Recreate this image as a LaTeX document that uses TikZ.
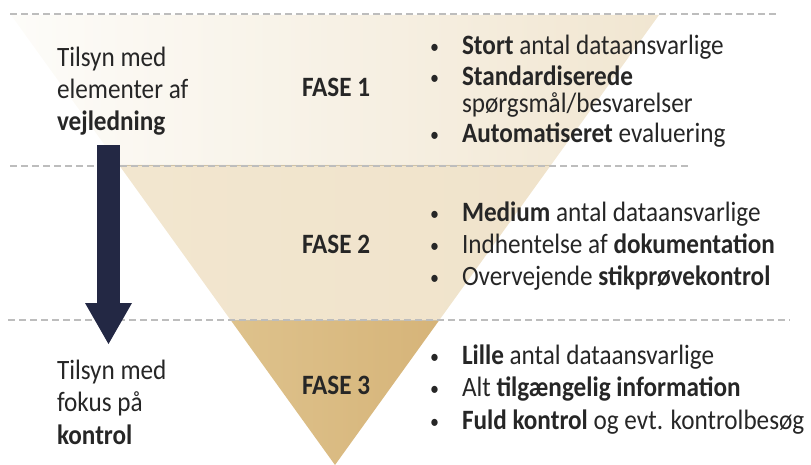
\documentclass[tikz,border=0pt]{standalone}
\usepackage{fontspec}
\setmainfont{Carlito}[FakeStretch=0.9]
\definecolor{txt}{HTML}{262626}
\definecolor{navy}{HTML}{232844}
\definecolor{dashc}{HTML}{BDBDBD}
\definecolor{sepc}{HTML}{CFC2A6}
\definecolor{bandAl}{HTML}{FDFCF9}
\definecolor{bandAr}{HTML}{F1E6D1}
\definecolor{bandBl}{HTML}{F2E6CF}
\definecolor{bandBm}{HTML}{E8D5B1}
\definecolor{bandBr}{HTML}{F0E3CB}
\definecolor{bandCl}{HTML}{DEC28C}
\definecolor{bandCr}{HTML}{D6B479}
\begin{document}
\begin{tikzpicture}[x=1pt,y=-1pt,
  every node/.style={inner sep=0pt, outer sep=0pt, text=txt, font=\fontsize{28}{32}\selectfont},
  lbl/.style={anchor=base west},
  bul/.style={anchor=base west, execute at begin node={\makebox[33pt][l]{\hspace{1pt}\raisebox{1pt}{\fontsize{20}{20}\selectfont\textbullet}}}},
  fase/.style={anchor=base west, font=\fontsize{28}{32}\selectfont\bfseries},
  dashln/.style={draw=dashc, line width=1.3pt, dash pattern=on 7pt off 4pt},
  sepln/.style={draw=sepc, line width=0.8pt}]
\useasboundingbox (0,0) rectangle (811,465);
% funnel geometry
\coordinate (tl) at (11,15);
\coordinate (tr) at (659,15);
\coordinate (ml) at (119,165);
\coordinate (mr) at (551,165);
\coordinate (bl) at (230.6,320);
\coordinate (br) at (439.4,320);
\coordinate (apex) at (335,465);
% bands
\shade[left color=bandAl, right color=bandAr] (tl) -- (tr) -- (mr) -- (ml) -- cycle;
\shade[left color=bandBl, middle color=bandBm, right color=bandBr] (ml) -- (mr) -- (br) -- (bl) -- cycle;
\shade[left color=bandCl, right color=bandCr] (bl) -- (br) -- (apex) -- cycle;
\draw[sepln] (ml) -- (mr);
\draw[sepln] (bl) -- (br);
% dashed guide lines
\coordinate (d1a) at (10,14);   \coordinate (d1b) at (778,14);
\coordinate (d2a) at (10,166);  \coordinate (d2b) at (690,166);
\coordinate (d3a) at (8,320);   \coordinate (d3b) at (790,320);
\draw[dashln] (d1a) -- (d1b);
\draw[dashln] (d2a) -- (d2b);
\draw[dashln] (d3a) -- (d3b);
% arrow
\coordinate (s1) at (97,145);
\coordinate (s2) at (120,303);
\coordinate (h1) at (85,303);
\coordinate (h2) at (132,303);
\coordinate (tip) at (108.5,344);
\fill[navy] (s1) rectangle (s2);
\fill[navy] (h1) -- (h2) -- (tip) -- cycle;
% left texts
\node[lbl] (l1) at (57,67) {Tilsyn med};
\node[lbl] (l2) at (57,99) {elementer af};
\node[lbl] (l3) at (57,131) {\textbf{vejledning}};
\node[lbl] (b1) at (57,379) {Tilsyn med};
\node[lbl] (b2) at (57,411) {fokus på};
\node[lbl] (b3) at (57,444) {\textbf{kontrol}};
% phases
\node[fase] (f1) at (302,97) {FASE 1};
\node[fase] (f2) at (302,253) {FASE 2};
\node[fase] (f3) at (302,394) {FASE 3};
% bullets phase 1
\node[bul] (p11) at (429,55) {\textbf{Stort} antal dataansvarlige};
\node[bul] (p12) at (429,86) {\textbf{Standardiserede}};
\node[lbl] (p12b) at (462,113) {spørgsmål/besvarelser};
\node[bul] (p13) at (429,143) {\textbf{Automatiseret} evaluering};
% bullets phase 2
\node[bul] (p21) at (429,222) {\textbf{Medium} antal dataansvarlige};
\node[bul] (p22) at (429,253) {Indhentelse af \textbf{dokumentation}};
\node[bul] (p23) at (429,285) {Overvejende \textbf{stikprøvekontrol}};
% bullets phase 3
\node[bul] (p31) at (429,364) {\textbf{Lille} antal dataansvarlige};
\node[bul] (p32) at (429,396) {Alt \textbf{tilgængelig information}};
\node[bul] (p33) at (429,429) {\textbf{Fuld kontrol} og evt. kontrolbesøg};
\end{tikzpicture}
\end{document}
